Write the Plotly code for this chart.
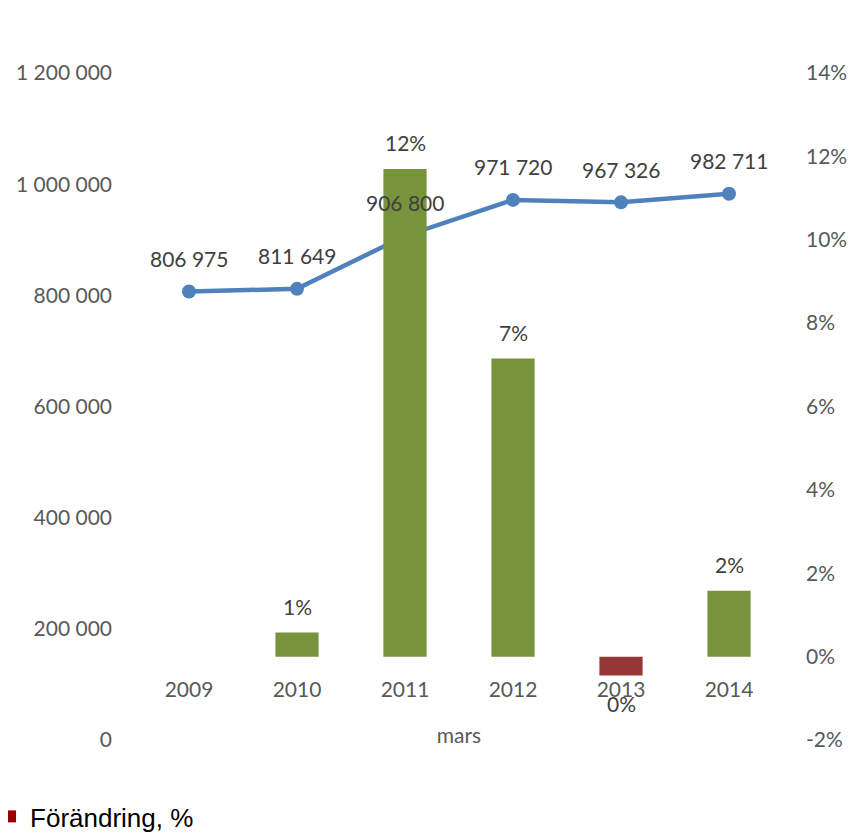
import plotly.graph_objects as go

years = ["2009", "2010", "2011", "2012", "2013", "2014"]
antal = [806975, 811649, 906800, 971720, 967326, 982711]
forandring = [None, 0.0058, 0.117, 0.0715, -0.0045, 0.0158]
pct_ticks = [-0.02, 0.0, 0.02, 0.04, 0.06, 0.08, 0.10, 0.12, 0.14]

bar_colors = ["#77933C" if (v is None or v >= 0) else "#953735" for v in forandring]
bar_colors[0] = "#990000"  # legend swatch colour

def fmt_num(v):
    return f"{v:,}".replace(",", " ")

def fmt_pct(v):
    return f"{abs(round(v * 100))}%" if round(v * 100) == 0 else f"{round(v * 100)}%"

font = "Lato, 'Open Sans', sans-serif"

fig = go.Figure()

fig.add_trace(go.Bar(
    x=years, y=forandring, name="Förändring, %", yaxis="y2",
    marker=dict(color=bar_colors, line=dict(width=0)),
    width=0.4,
))

fig.add_trace(go.Scatter(
    x=years, y=antal, mode="lines+markers", name="Antal",
    line=dict(color="#4F81BD", width=4.5),
    marker=dict(size=14, color="#4F81BD"),
    showlegend=False,
))

# data labels (x given as category index)
for i, v in enumerate(antal):
    fig.add_annotation(x=i, y=v, yref="y", text=fmt_num(v), showarrow=False,
                       yshift=33, font=dict(family=font, size=21, color="#404040"))
for i, v in enumerate(forandring):
    if v is None:
        continue
    fig.add_annotation(x=i, y=v, yref="y2", text=fmt_pct(v), showarrow=False,
                       yshift=26 if v >= 0 else -28,
                       font=dict(family=font, size=21, color="#404040"))

# page body adds an 8px margin, so the figure is 8px smaller
fig.update_layout(
    width=852, height=826,
    margin=dict(l=127, r=77, t=65, b=94, autoexpand=False),
    plot_bgcolor="white", paper_bgcolor="white",
    separators=", ",
    font=dict(family=font, size=21, color="#595959"),
    showlegend=True,
    legend=dict(x=-0.2237, y=-0.1499, xanchor="left", yanchor="bottom",
                font=dict(family="'Liberation Sans', Arial, sans-serif", size=26, color="black"),
                bgcolor="rgba(0,0,0,0)"),
    xaxis=dict(type="category", range=[-0.5, 5.5], anchor="free", position=(0 - -0.02) / 0.16,
               showline=False, showgrid=False, ticks="", ticklabelstandoff=18,
               title=dict(text="mars", standoff=28, font=dict(size=21, color="#595959")),
               tickfont=dict(size=21, color="#595959")),
    yaxis=dict(range=[0, 1200000], dtick=200000, tickformat=",d", showgrid=False,
               zeroline=False, showline=False, ticks="", ticklabelstandoff=22,
               tickfont=dict(size=21, color="#595959")),
    yaxis2=dict(range=[-0.02, 0.14], tickvals=pct_ticks,
                ticktext=[f"{round(t * 100)}%" for t in pct_ticks], overlaying="y",
                side="right", showgrid=False, zeroline=False, showline=False, ticks="",
                ticklabelstandoff=22, tickfont=dict(size=21, color="#595959")),
)

fig.write_html("out.html")
